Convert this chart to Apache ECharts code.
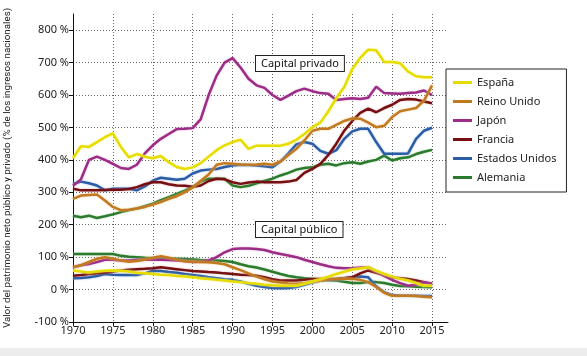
<!DOCTYPE html>
<html>
<head>
<meta charset="utf-8">
<script src="https://cdn.jsdelivr.net/npm/echarts@6/dist/echarts.min.js"></script>
<style>
html,body{margin:0;padding:0;background:#fff;}
#chart{width:587px;height:356px;}
</style>
</head>
<body>
<div id="chart"></div>
<script>
const years = [];
for (let y = 1970; y <= 2015; y++) years.push(y);

const countries = ['España', 'Reino Unido', 'Japón', 'Francia', 'Estados Unidos', 'Alemania'];

// Capital privado (% de la renta nacional)
const privEspana = [405,442,440,455,470,482,440,408,418,410,405,412,393,378,372,377,390,410,430,445,455,462,434,444,444,444,444,450,462,480,501,515,550,590,625,680,715,740,738,702,702,698,672,658,655,655];
const privReinoUnido = [280,290,292,293,275,255,245,246,250,255,262,270,280,288,300,315,335,355,385,390,388,386,385,386,388,385,395,415,434,460,490,496,496,508,520,528,527,515,501,505,532,550,555,560,583,630];
const privJapon = [320,340,400,410,400,388,375,372,385,420,445,465,480,495,496,498,525,600,660,700,714,685,650,630,622,600,585,598,612,620,612,606,604,585,588,590,588,592,626,606,605,604,606,608,614,600];
const privFrancia = [311,306,306,306,307,308,308,310,316,325,331,331,325,321,320,317,321,335,342,340,331,326,330,333,331,331,331,333,338,360,372,388,415,450,490,520,545,558,547,560,570,585,588,586,580,575];
const privEEUU = [326,333,328,321,306,311,311,311,306,318,336,345,342,339,342,358,367,370,372,378,383,385,384,383,380,377,395,420,448,455,450,428,419,430,465,488,496,496,455,419,419,419,420,465,490,499];
const privAlemania = [228,223,228,221,226,232,239,245,250,257,265,276,285,295,305,316,333,342,342,342,321,316,320,328,335,342,352,360,370,375,377,385,388,383,390,393,388,395,400,413,398,405,408,418,425,431];

// Capital público
const pubEspana = [59,56,53,56,58,59,58,56,52,50,48,46,45,42,40,38,35,33,30,28,25,23,20,18,15,13,12,12,12,18,25,32,40,48,55,62,65,69,58,48,40,33,28,20,12,12];
const pubReinoUnido = [69,75,85,95,100,95,90,86,88,93,98,103,98,92,87,86,85,84,82,78,69,60,50,40,32,25,22,19,18,20,23,27,32,33,34,33,30,23,8,-10,-19,-19,-19,-20,-22,-24];
const pubJapon = [69,75,79,85,92,92,90,90,91,92,93,92,91,90,88,85,86,90,100,115,125,127,127,125,122,115,110,105,100,92,85,78,72,67,66,66,68,69,55,42,30,20,12,15,22,18];
const pubFrancia = [43,45,48,50,53,56,59,61,63,64,66,69,66,63,60,57,56,54,53,50,48,46,45,43,38,32,28,28,28,30,33,33,33,33,35,38,50,59,52,45,38,35,33,28,23,18];
const pubEEUU = [35,36,38,42,48,46,45,45,45,50,58,57,54,52,48,45,42,38,35,32,30,25,18,12,8,5,4,5,8,15,22,28,30,32,35,38,40,38,10,-8,-17,-19,-19,-19,-20,-20];
const pubAlemania = [110,110,110,110,110,110,104,101,100,98,97,97,96,95,94,93,91,90,90,88,85,78,72,68,62,55,48,42,38,35,33,31,29,28,24,20,20,23,23,20,15,11,10,9,8,7];

const yTicks = [-100, 0, 100, 200, 300, 400, 500, 600, 700, 800];
const xTicks = [1970, 1975, 1980, 1985, 1990, 1995, 2000, 2005, 2010, 2015];

const colors = {
  'España': '#e6dc00',
  'Reino Unido': '#c27a22',
  'Japón': '#9b2d86',
  'Francia': '#760f12',
  'Estados Unidos': '#2b5da6',
  'Alemania': '#2b7a2e'
};
const halos = {
  'España': 'rgba(250,245,120,0.9)',
  'Reino Unido': 'rgba(240,190,120,0.8)',
  'Japón': 'rgba(220,150,210,0.7)',
  'Francia': 'rgba(200,120,120,0.6)',
  'Estados Unidos': 'rgba(140,180,230,0.8)',
  'Alemania': 'rgba(140,200,140,0.7)'
};

const privData = {
  'España': privEspana, 'Reino Unido': privReinoUnido, 'Japón': privJapon,
  'Francia': privFrancia, 'Estados Unidos': privEEUU, 'Alemania': privAlemania
};
const pubData = {
  'España': pubEspana, 'Reino Unido': pubReinoUnido, 'Japón': pubJapon,
  'Francia': pubFrancia, 'Estados Unidos': pubEEUU, 'Alemania': pubAlemania
};

function mk(name, arr) {
  return {
    name: name,
    type: 'line',
    data: years.map((y, i) => [y, arr[i]]),
    showSymbol: false,
    symbol: 'none',
    smooth: false,
    color: colors[name],
    lineStyle: { width: 2.5, color: colors[name], shadowColor: halos[name], shadowBlur: 2 },
    emphasis: { disabled: true },
    animation: false,
    z: 3
  };
}

const series = [];
const order = ['Alemania', 'Estados Unidos', 'Francia', 'Japón', 'Reino Unido', 'España'];
order.forEach(c => series.push(mk(c, pubData[c])));
order.forEach(c => series.push(mk(c, privData[c])));

const FONT = 'Noto Sans';

const chart = echarts.init(document.getElementById('chart'), null, { renderer: 'canvas' });
chart.setOption({
  animation: false,
  backgroundColor: '#ffffff',
  textStyle: { fontFamily: FONT },
  grid: { left: 73, right: 139, top: 14, bottom: 34, containLabel: false, outerBoundsMode: 'none' },
  xAxis: {
    type: 'value',
    min: 1970,
    max: 2017,
    interval: 5,
    axisLine: { show: true, onZero: false, lineStyle: { color: '#111', width: 1 } },
    axisTick: { show: true, length: 4, lineStyle: { color: '#111' } },
    axisLabel: {
      color: '#222', fontSize: 11, fontFamily: FONT, margin: 3,
      showMaxLabel: false,
      formatter: v => xTicks.indexOf(v) >= 0 ? String(v) : ''
    },
    splitLine: { show: true, showMinLine: false, showMaxLine: false, lineStyle: { color: '#666', type: [1, 2], width: 1 } }
  },
  yAxis: {
    type: 'value',
    min: -100,
    max: 850,
    interval: 100,
    name: 'Valor del patrimonio neto público y privado (% de los ingresos nacionales)',
    nameLocation: 'middle',
    nameGap: 60,
    nameTextStyle: { fontSize: 9.8, color: '#222', fontFamily: 'Roboto' },
    axisLine: { show: true, onZero: false, lineStyle: { color: '#111', width: 1 } },
    axisTick: { show: true, length: 4, lineStyle: { color: '#111' } },
    axisLabel: {
      color: '#222', fontSize: 11, fontFamily: FONT, margin: 4,
      showMaxLabel: false,
      formatter: v => yTicks.indexOf(v) >= 0 ? v + ' %' : ''
    },
    splitLine: { show: true, showMaxLine: false, lineStyle: { color: '#666', type: [1, 2], width: 1 } }
  },
  legend: {
    data: countries,
    orient: 'vertical',
    left: 446,
    top: 69,
    padding: [8, 10, 9, 7],
    itemGap: 8,
    itemWidth: 19,
    itemHeight: 3,
    icon: 'rect',
    borderColor: '#222',
    borderWidth: 1,
    backgroundColor: '#ffffff',
    textStyle: { fontSize: 11, color: '#222', fontFamily: FONT },
    selectedMode: false
  },
  graphic: [
    {
      type: 'rect', left: 0, top: 348, z: -10,
      shape: { width: 587, height: 8 },
      style: { fill: '#ececec' }
    },
    {
      type: 'text', left: 255, top: 55, z: 20,
      style: {
        text: 'Capital privado', fontSize: 11, fontFamily: FONT, fill: '#111',
        backgroundColor: '#fff', borderColor: '#222', borderWidth: 1,
        padding: [2, 5, 2, 5]
      }
    },
    {
      type: 'text', left: 255, top: 221, z: 20,
      style: {
        text: 'Capital público', fontSize: 11, fontFamily: FONT, fill: '#111',
        backgroundColor: '#fff', borderColor: '#222', borderWidth: 1,
        padding: [2, 5, 2, 5]
      }
    }
  ],
  series: series
});
</script>
</body>
</html>
